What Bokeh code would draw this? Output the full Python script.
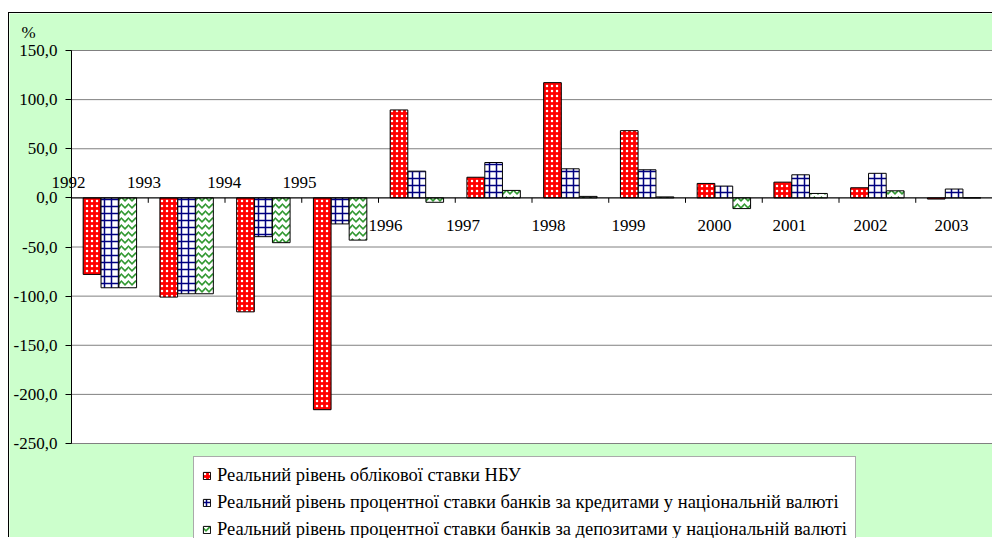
from bokeh.plotting import figure
from bokeh.models import (Range1d, FixedTicker, LabelSet, Label,
                          ColumnDataSource, Legend, LegendItem)
from bokeh.core.properties import value
from bokeh.transform import dodge
from bokeh.embed import file_html
from bokeh.resources import INLINE

# ---- data ----
years = ["1992", "1993", "1994", "1995", "1996", "1997", "1998", "1999",
         "2000", "2001", "2002", "2003"]
nbu_rate = [-77.9, -101.0, -116.0, -215.6, 89.5, 21.0, 117.3, 68.4, 14.7, 16.0, 10.3, -1.2]
loan_rate = [-91.5, -97.6, -39.5, -26.5, 27.2, 36.0, 29.6, 28.6, 12.0, 23.5, 25.0, 9.0]
deposit_rate = [-91.5, -97.6, -45.6, -43.0, -4.5, 7.6, 1.5, 1.0, -10.9, 4.5, 7.2, 0.0]
series_names = [
    "Реальний рівень облікової ставки НБУ",
    "Реальний рівень процентної ставки банків за кредитами у національній валюті",
    "Реальний рівень процентної ставки банків за депозитами у національній валюті",
]
y_ticks = [150, 100, 50, 0, -50, -100, -150, -200, -250]
y_tick_labels = ["150,0", "100,0", "50,0", "0,0", "-50,0", "-100,0", "-150,0", "-200,0", "-250,0"]

# ---- layout helpers (positions of category labels, as in the original) ----
label_dx = [-0.04, -0.055, -0.01, -0.03, 0.09, 0.10, 0.215, 0.257, 0.378, 0.355, 0.41, 0.466]
label_y = [10, 10, 10, 10, -34, -34, -34, -34, -34, -34, -34, -34]

FONT = "Liberation Serif"
n = len(years)
idx = list(range(n))
y_lo, y_hi = min(y_ticks), max(y_ticks)

# frame covers the whole green chart area; the plot area is drawn inside it
W, H = 984, 525
px_x = 76.75                      # pixels per category
px_y = 393.0 / (y_hi - y_lo)      # pixels per unit
x_start = -62 / px_x
x_end = n + (W - 62 - n * px_x) / px_x
y_end = y_hi + 37 / px_y
y_start = y_lo - (H - 37 - (y_hi - y_lo) * px_y) / px_y

p = figure(width=W, height=H, output_backend="svg", toolbar_location=None,
           x_range=Range1d(x_start, x_end), y_range=Range1d(y_start, y_end),
           x_axis_location=None,
           min_border_left=0, min_border_top=0, min_border_right=0, min_border_bottom=0)
p.margin = (12, 0, 0, 8)
p.styles = {"border-left": "1px solid black", "border-top": "1px solid black"}
p.border_fill_color = "#CCFFCC"
p.background_fill_color = "#CCFFCC"
p.outline_line_color = None
p.grid.visible = False

# white plot area with grey outline
p.quad(left=[0], right=[n], bottom=[y_lo], top=[y_hi], fill_color="white",
       line_color="#808080", line_width=1)
# horizontal grid lines inside the plot area
p.segment(x0=[0] * len(y_ticks), x1=[n] * len(y_ticks), y0=y_ticks, y1=y_ticks,
          line_color="#808080", line_width=1)

ax = p.yaxis[0]
ax.fixed_location = 0
ax.bounds = (y_lo, y_hi)
ax.ticker = FixedTicker(ticks=y_ticks)
ax.major_label_overrides = {t: l for t, l in zip(y_ticks, y_tick_labels)}
ax.major_label_text_font = FONT
ax.major_label_text_font_size = "17px"
ax.major_label_text_color = "black"
ax.axis_line_color = "black"
ax.major_tick_line_color = "black"
ax.major_tick_out = 6
ax.major_tick_in = 0
ax.minor_tick_line_color = None
ax.major_label_standoff = 8

src = ColumnDataSource(dict(
    x=[i + 0.5 for i in idx], nbu=nbu_rate, loan=loan_rate, dep=deposit_rate,
))
w = 0.23
r1 = p.vbar(x=dodge("x", -0.233), top="nbu", bottom=0, width=w, source=src,
            fill_color="#FF0000", line_color="black", line_width=1,
            hatch_pattern="dot", hatch_color="white", hatch_scale=5, hatch_weight=2.2)
r2 = p.vbar(x=dodge("x", 0.0), top="loan", bottom=0, width=w, source=src,
            fill_color="white", line_color="black", line_width=1,
            hatch_pattern="cross", hatch_color="#000080", hatch_scale=7, hatch_weight=1.5)
r3 = p.vbar(x=dodge("x", 0.233), top="dep", bottom=0, width=w, source=src,
            fill_color="white", line_color="black", line_width=1,
            hatch_pattern="horizontal_wave", hatch_color="#339933", hatch_scale=7, hatch_weight=1.6)

# category axis at zero with tick marks between categories
p.segment(x0=[0], x1=[n], y0=[0], y1=[0], line_color="black", line_width=1)
p.segment(x0=list(range(1, n + 1)), y0=0, x1=list(range(1, n + 1)), y1=-5,
          line_color="black", line_width=1)

lab_src = ColumnDataSource(dict(
    x=[i + d for i, d in zip(idx, label_dx)], y=label_y, t=years))
p.add_layout(LabelSet(x="x", y="y", text="t", source=lab_src, text_align="center",
                      text_baseline="alphabetic", text_font=value(FONT),
                      text_font_size="17px", text_color="black"))
p.add_layout(Label(x=-0.651, y=177.5, text="%", text_align="left", text_baseline="top",
                   text_font=FONT, text_font_size="17px", text_color="black"))

legend = Legend(items=[LegendItem(label=series_names[0], renderers=[r1]),
                       LegendItem(label=series_names[1], renderers=[r2]),
                       LegendItem(label=series_names[2], renderers=[r3])],
                location=(184, -11), orientation="vertical",
                label_text_font=FONT, label_text_font_size="18.5px",
                label_text_color="black",
                glyph_width=9, glyph_height=9, label_height=21, spacing=6, padding=8,
                label_standoff=6, margin=0,
                background_fill_color="white", background_fill_alpha=1,
                border_line_color="#555555", border_line_width=1)
p.add_layout(legend, "center")

open("out.html", "w").write(file_html(p, INLINE))
